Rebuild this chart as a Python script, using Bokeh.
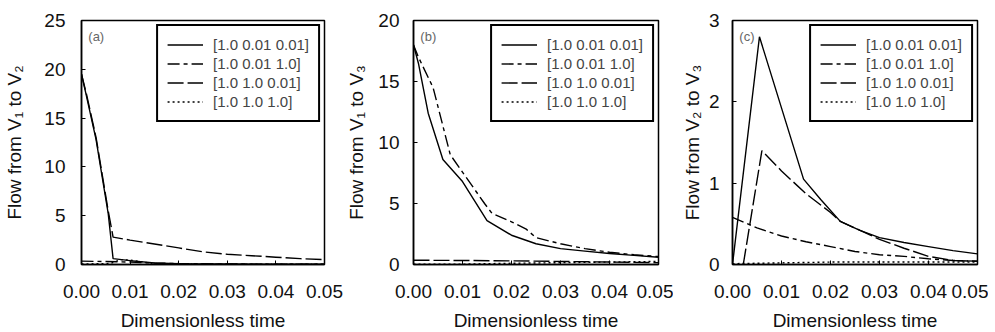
from bokeh.plotting import figure
from bokeh.layouts import row
from bokeh.models import FixedTicker, NumeralTickFormatter, Range1d
from bokeh.embed import file_html
from bokeh.resources import INLINE

series_labels = ["[1.0 0.01 0.01]", "[1.0 0.01 1.0]", "[1.0 1.0 0.01]", "[1.0 1.0 1.0]"]
x_ticks = [0.0, 0.01, 0.02, 0.03, 0.04, 0.05]

# Panel (a): flow from V1 to V2
a_s1_t = [0, 0.001, 0.003, 0.0055, 0.0065, 0.01, 0.015, 0.02, 0.03, 0.04, 0.05]
a_s1_y = [19.5, 17.3, 12.8, 5.2, 0.6, 0.4, 0.15, 0.08, 0.05, 0.03, 0.02]
a_s2_t = [0, 0.005, 0.01, 0.015, 0.02, 0.03, 0.05]
a_s2_y = [0.35, 0.3, 0.25, 0.15, 0.1, 0.05, 0.02]
a_s3_t = [0, 0.001, 0.003, 0.0055, 0.0065, 0.01, 0.015, 0.02, 0.025, 0.03, 0.035, 0.04, 0.045, 0.05]
a_s3_y = [19.5, 17.5, 13.0, 5.5, 2.8, 2.5, 2.1, 1.7, 1.3, 1.05, 0.9, 0.75, 0.6, 0.5]
a_s4_t = [0, 0.006, 0.008, 0.01, 0.012, 0.015, 0.02, 0.05]
a_s4_y = [0.05, 0.1, 0.5, 0.45, 0.3, 0.1, 0.05, 0.02]

# Panel (b): flow from V1 to V3
b_s1_t = [0, 0.001, 0.003, 0.006, 0.01, 0.015, 0.02, 0.025, 0.03, 0.035, 0.04, 0.045, 0.05]
b_s1_y = [18, 16.5, 12.4, 8.6, 6.8, 3.6, 2.4, 1.7, 1.3, 1.1, 0.9, 0.75, 0.6]
b_s2_t = [0, 0.001, 0.004, 0.0075, 0.0145, 0.016, 0.02, 0.023, 0.025, 0.03, 0.035, 0.04, 0.045, 0.05]
b_s2_y = [18, 17, 14.5, 9.0, 5.0, 4.2, 3.5, 2.9, 2.2, 1.7, 1.3, 1.0, 0.8, 0.65]
b_s3_t = [0, 0.01, 0.02, 0.03, 0.04, 0.05]
b_s3_y = [0.35, 0.33, 0.3, 0.25, 0.2, 0.15]
b_s4_t = [0, 0.01, 0.02, 0.03, 0.04, 0.05]
b_s4_y = [0.02, 0.03, 0.1, 0.15, 0.2, 0.25]

# Panel (c): flow from V2 to V3
c_s1_t = [0, 0.0055, 0.0145, 0.018, 0.022, 0.026, 0.03, 0.035, 0.04, 0.045, 0.05]
c_s1_y = [0, 2.8, 1.05, 0.8, 0.53, 0.42, 0.33, 0.27, 0.22, 0.17, 0.13]
c_s2_t = [0, 0.005, 0.01, 0.015, 0.02, 0.025, 0.03, 0.035, 0.04, 0.045, 0.05]
c_s2_y = [0.58, 0.45, 0.35, 0.28, 0.22, 0.16, 0.12, 0.1, 0.07, 0.05, 0.04]
c_s3_t = [0.0022, 0.006, 0.01, 0.015, 0.02, 0.022, 0.03, 0.035, 0.04, 0.045, 0.05]
c_s3_y = [0, 1.4, 1.15, 0.87, 0.64, 0.53, 0.31, 0.2, 0.1, 0.05, 0.04]
c_s4_t = [0, 0.01, 0.02, 0.03, 0.04, 0.05]
c_s4_y = [0.01, 0.02, 0.03, 0.03, 0.03, 0.03]

FONT = "Liberation Sans"
dashes = ["solid", "12 4 4 4", "16 4", "2 3"]


def panel(fw, b_left, b_right, ymax, yticks, ylabel, letter, data, ylab_standoff, tick_standoff):
    p = figure(frame_width=fw, frame_height=244, output_backend="svg", toolbar_location=None,
               min_border_left=b_left, min_border_right=b_right, min_border_top=20,
               min_border_bottom=40, x_range=Range1d(0, 0.05), y_range=Range1d(0, ymax))
    p.xgrid.visible = False
    p.ygrid.visible = False
    p.outline_line_color = "black"
    p.outline_line_width = 1.5
    p.outline_line_alpha = 1.0
    for i, (t, y) in enumerate(data):
        p.line(t, y, line_color="black", line_width=1.4, line_dash=dashes[i],
               legend_label=series_labels[i])
    p.xaxis.ticker = FixedTicker(ticks=x_ticks)
    p.xaxis.formatter = NumeralTickFormatter(format="0.00")
    p.yaxis.ticker = FixedTicker(ticks=yticks)
    for ax in (p.xaxis[0], p.yaxis[0]):
        ax.major_tick_in = 4
        ax.major_tick_out = 0
        ax.minor_tick_line_color = None
        ax.axis_line_width = 1.5
        ax.major_label_text_font = FONT
        ax.major_label_text_font_size = "19px"
        ax.major_label_text_color = "#111111"
        ax.axis_label_text_font = FONT
        ax.axis_label_text_font_size = "19px"
        ax.axis_label_text_font_style = "normal"
        ax.axis_label_text_color = "#111111"
    p.xaxis.axis_label = "Dimensionless time"
    p.xaxis.major_label_standoff = 20
    p.xaxis.axis_label_standoff = 9
    p.yaxis.axis_label = ylabel
    p.yaxis.major_label_standoff = tick_standoff
    p.yaxis.axis_label_standoff = ylab_standoff
    p.text(x=[0.0014], y=[ymax * 0.935], text=[letter], text_font_size="13px",
           text_color="#666666", text_baseline="middle")
    lg = p.legend[0]
    lg.location = "top_right"
    lg.margin = 4
    lg.padding = 9
    lg.spacing = 0
    lg.glyph_width = 36
    lg.glyph_height = 19
    lg.label_height = 19
    lg.label_standoff = 10
    lg.label_text_font = FONT
    lg.label_text_font_size = "15px"
    lg.border_line_color = "black"
    lg.border_line_alpha = 1.0
    lg.border_line_width = 2.5
    lg.background_fill_alpha = 1.0
    return p


pa = panel(243, 81, 19, 25, [0, 5, 10, 15, 20, 25], "Flow from V\u2081 to V\u2082", "(a)",
           [(a_s1_t, a_s1_y), (a_s2_t, a_s2_y), (a_s3_t, a_s3_y), (a_s4_t, a_s4_y)], 16, 16)
pb = panel(245, 66, 15, 20, [0, 5, 10, 15, 20], "Flow from V\u2081 to V\u2083", "(b)",
           [(b_s1_t, b_s1_y), (b_s2_t, b_s2_y), (b_s3_t, b_s3_y), (b_s4_t, b_s4_y)], 8, 14)
pc = panel(245, 59, 11, 3, [0, 1, 2, 3], "Flow from V\u2082 to V\u2083", "(c)",
           [(c_s1_t, c_s1_y), (c_s2_t, c_s2_y), (c_s3_t, c_s3_y), (c_s4_t, c_s4_y)], 3, 13)

layout = row(pa, pb, pc)
open("out.html", "w").write(file_html(layout, INLINE))
